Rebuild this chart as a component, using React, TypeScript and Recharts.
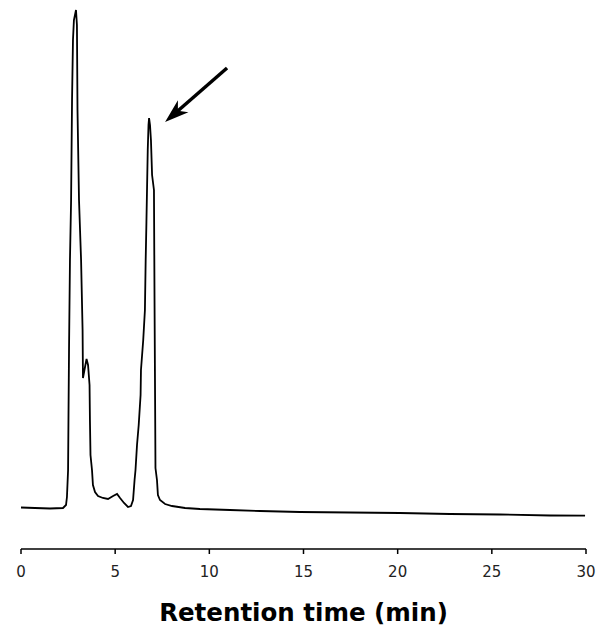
import React from "react";
import { LineChart, Line, XAxis, YAxis, ReferenceLine } from "recharts";

// Retention time (min)
const times: number[] = [
  0, 0.74, 1.54, 2.23, 2.39, 2.44, 2.5, 2.52, 2.55, 2.6, 2.66, 2.71, 2.76, 2.81, 2.92,
  2.97, 3.0, 3.08, 3.19, 3.27, 3.29, 3.37, 3.48, 3.56, 3.64, 3.66, 3.69, 3.77, 3.82,
  3.93, 4.09, 4.35, 4.62, 4.89, 5.1, 5.26, 5.47, 5.68, 5.84, 5.95, 6.03, 6.08, 6.16,
  6.25, 6.35, 6.37, 6.49, 6.58, 6.62, 6.66, 6.73, 6.77, 6.8, 6.85, 6.9, 6.96, 7.06,
  7.09, 7.12, 7.14, 7.22, 7.27, 7.38, 7.65, 8.02, 8.71, 9.5, 11.1, 12.69, 14.81,
  17.47, 20.12, 22.78, 25.43, 28.09, 29.95,
];

// Detector signal (arbitrary units)
const signal: number[] = [
  41.5, 41, 40.5, 41, 44, 52, 79, 129, 199, 289, 349, 449, 509, 529, 539,
  524, 439, 349, 289, 219, 171, 179, 190, 184, 164, 129, 94, 79, 64,
  57, 53, 51, 50, 53, 55, 51, 46, 42, 43, 49, 69, 79, 104,
  124, 154, 179, 209, 239, 289, 327, 399, 424, 431, 424, 409, 374, 359,
  249, 149, 81, 69, 54, 49, 45, 43, 41, 40, 39, 38, 37,
  36.5, 36, 35, 34.5, 33.5, 33.3,
];

const xTicks: number[] = [0, 5, 10, 15, 20, 25, 30];

// Arrow annotation pointing at the second peak (tail -> head)
const arrowTail = { t: 10.94, v: 481 };
const arrowHead = { t: 7.65, v: 427 };

const data = times.map((t, i) => ({ t, v: signal[i] }));

const ArrowShape = (p: any) => {
  const { x1, y1, x2, y2 } = p;
  const dx = x2 - x1;
  const dy = y2 - y1;
  const len = Math.hypot(dx, dy) || 1;
  const ux = dx / len;
  const uy = dy / len;
  const hl = 24;
  const hw = 8;
  const bx = x2 - ux * hl;
  const by = y2 - uy * hl;
  const px = -uy;
  const py = ux;
  const pts = [
    `${x2},${y2}`,
    `${bx + px * hw},${by + py * hw}`,
    `${bx + ux * 7},${by + uy * 7}`,
    `${bx - px * hw},${by - py * hw}`,
  ].join(" ");
  return (
    <g>
      <line x1={x1} y1={y1} x2={bx + ux * 8} y2={by + uy * 8} stroke="#000" strokeWidth={3.5} />
      <polygon points={pts} fill="#000" />
    </g>
  );
};

export default function App() {
  return (
    <div style={{ position: "absolute", left: 0, top: 0, background: "#fff" }}>
      <LineChart
        width={598}
        height={629}
        data={data}
        margin={{ top: 9, right: 12, left: 21, bottom: 0 }}
      >
        <XAxis
          dataKey="t"
          type="number"
          domain={[0, 30]}
          ticks={xTicks}
          interval={0}
          height={80}
          tickSize={5}
          tickMargin={12}
          stroke="#000"
          strokeWidth={1.5}
          tick={{ fill: "#222", fontSize: 15, fontFamily: "DejaVu Sans" }}
          label={{
            value: "Retention time (min)",
            position: "insideBottom",
            offset: 8,
            fill: "#000",
            fontSize: 24.5,
            fontWeight: "bold",
            fontFamily: "DejaVu Sans",
          }}
        />
        <YAxis type="number" domain={[0, 540]} hide width={0} />
        <Line
          type="linear"
          dataKey="v"
          stroke="#000"
          strokeWidth={1.8}
          dot={false}
          isAnimationActive={false}
        />
        <ReferenceLine
          segment={[
            { x: arrowTail.t, y: arrowTail.v },
            { x: arrowHead.t, y: arrowHead.v },
          ]}
          ifOverflow="visible"
          shape={ArrowShape}
        />
      </LineChart>
    </div>
  );
}
